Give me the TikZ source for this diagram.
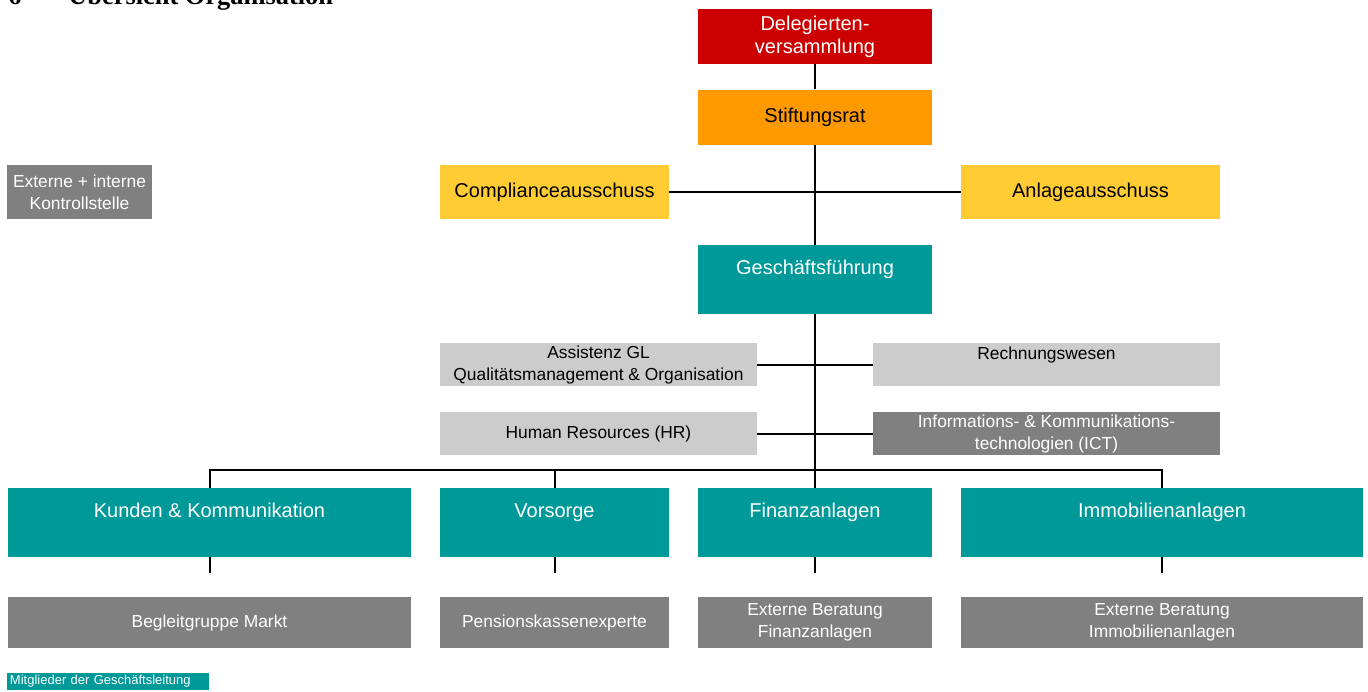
\documentclass[tikz,border=0pt]{standalone}
\usepackage{fontspec}
\setmainfont{Liberation Sans}
\newfontfamily\headfont{Liberation Serif}
\usetikzlibrary{positioning}
\definecolor{orgred}{RGB}{204,0,0}
\definecolor{orgorange}{RGB}{255,153,0}
\definecolor{orgyellow}{RGB}{255,204,51}
\definecolor{orgteal}{RGB}{0,153,153}
\definecolor{orgdark}{RGB}{128,128,128}
\definecolor{orglight}{RGB}{204,204,204}
\tikzset{
  orgbig/.style={font=\fontsize{10}{11.5}\selectfont},
  orgsmall/.style={font=\fontsize{8.7}{11}\selectfont},
  orgbox/.style 2 args={
    fill=#1, text=#2, draw=none, inner sep=0pt, align=center
  },
  orgtop/.style={text height=14.5pt, text depth=20pt},
  orgline/.style={draw=black, line width=1pt},
}

\begin{document}
\begin{tikzpicture}[x=0.5pt, y=-0.5pt]
  \useasboundingbox (0,0) rectangle (1368,691);

  \node[anchor=base west, inner sep=0pt,
    font=\headfont\bfseries\fontsize{13.2}{15}\selectfont] (title) at (8,4)
    {\makebox[30pt][l]{6}Übersicht Organisation};

  % Gremien
  \node[orgbox={orgred}{white}, orgbig, minimum width=117pt, minimum height=27.5pt]
    (del) at (815,36.5) {Delegierten-\\versammlung};
  \node[orgbox={orgorange}{black}, orgbig, minimum width=117pt, minimum height=27.5pt,
    below=12.5pt of del] (sr) {Stiftungsrat};
  \node[orgbox={orgyellow}{black}, orgbig, minimum width=114.5pt, minimum height=27pt]
    (ca) at (554.5,192) {Complianceausschuss};
  \node[orgbox={orgyellow}{black}, orgbig, minimum width=129.5pt, minimum height=27pt]
    (aa) at (1090.5,192) {Anlageausschuss};
  \node[orgbox={orgdark}{white}, orgsmall, minimum width=72.5pt, minimum height=27pt]
    (ks) at (79.5,192) {Externe + interne\\Kontrollstelle};

  % Geschaeftsfuehrung und Stab
  \node[orgbox={orgteal}{white}, orgbig, orgtop, minimum width=117pt]
    (gf) at (815,279.5) {Geschäftsführung};
  \node[orgbox={orglight}{black}, orgsmall, minimum width=158.5pt, minimum height=21.5pt]
    (as) at (598.5,364.5) {Assistenz GL\\Qualitätsmanagement \& Organisation};
  \node[orgbox={orglight}{black}, orgsmall, minimum width=173.5pt,
    text height=8pt, text depth=13.5pt]
    (rw) at (1046.5,364.5) {Rechnungswesen};
  \node[orgbox={orglight}{black}, orgsmall, minimum width=158.5pt, minimum height=21.5pt]
    (hr) at (598.5,433.5) {Human Resources (HR)};
  \node[orgbox={orgdark}{white}, orgsmall, minimum width=173.5pt, minimum height=21.5pt]
    (ict) at (1046.5,433.5) {Informations- \& Kommunikations-\\technologien (ICT)};

  % Bereiche
  \node[orgbox={orgteal}{white}, orgbig, orgtop, minimum width=201.5pt]
    (kk) at (209.5,522.5) {Kunden \& Kommunikation};
  \node[orgbox={orgteal}{white}, orgbig, orgtop, minimum width=114.5pt]
    (vs) at (554.5,522.5) {Vorsorge};
  \node[orgbox={orgteal}{white}, orgbig, orgtop, minimum width=117pt]
    (fa) at (815,522.5) {Finanzanlagen};
  \node[orgbox={orgteal}{white}, orgbig, orgtop, minimum width=201pt]
    (ia) at (1162,522.5) {Immobilienanlagen};

  % externe Stellen
  \node[orgbox={orgdark}{white}, orgsmall, minimum width=201.5pt, minimum height=25.5pt]
    (bm) at (209.5,622.5) {Begleitgruppe Markt};
  \node[orgbox={orgdark}{white}, orgsmall, minimum width=114.5pt, minimum height=25.5pt]
    (pk) at (554.5,622.5) {Pensionskassenexperte};
  \node[orgbox={orgdark}{white}, orgsmall, minimum width=117pt, minimum height=25.5pt]
    (ebf) at (815,622.5) {Externe Beratung\\Finanzanlagen};
  \node[orgbox={orgdark}{white}, orgsmall, minimum width=201pt, minimum height=25.5pt]
    (ebi) at (1162,622.5) {Externe Beratung\\Immobilienanlagen};

  \node[orgbox={orgteal}{white}, font=\fontsize{6.5}{7}\selectfont, align=left,
    text width=98pt, inner xsep=1.5pt, minimum height=8.5pt]
    (leg) at (108,681.5) {Mitglieder der Geschäftsleitung};

  % Linien
  \coordinate (bus) at (815,470);
  \draw[orgline] (del) -- (sr);
  \draw[orgline] (sr) -- (gf);
  \draw[orgline] (ca) -- (aa);
  \draw[orgline] (gf) -- (bus);
  \draw[orgline] (as) -- (rw);
  \draw[orgline] (hr) -- (ict);
  \foreach \d in {kk,vs,fa,ia}{
    \draw[orgline] (bus) -| (\d);
    \draw[orgline] (\d.south) -- ++(0,16);
  }
\end{tikzpicture}
\end{document}
